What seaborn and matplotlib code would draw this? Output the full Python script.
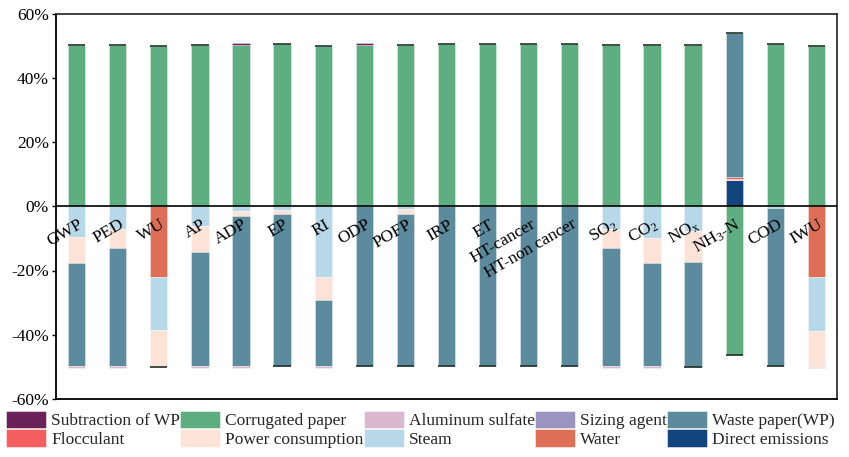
import matplotlib

matplotlib.use("Agg")
import matplotlib.pyplot as plt
import matplotlib.ticker as mticker
import numpy as np
import pandas as pd
import seaborn as sns
from matplotlib.patches import Patch

# ---------------------------------------------------------------------------
# data (percent contribution)
# ---------------------------------------------------------------------------
categories = ["GWP", "PED", "WU", "AP", "ADP", "EP", "RI", "ODP", "POFP", "IRP", "ET",
              "HT-cancer", "HT-non cancer", "SO$_2$", "CO$_2$", "NO$_\\mathrm{x}$",
              "NH$_3$-N", "COD", "IWU"]

direct_emissions = [0, 0, 0, 0, 0, 0, 0, 0, 0, 0, 0, 0, 0, 0, 0, 0, 8.3, 0, 0]
water = [0, 0, -22.1, 0, 0, 0, 0, 0, 0, 0, 0, 0, 0, 0, 0, 0, 0, 0, -22.1]
steam = [-9.6, -7.0, -16.4, -6.3, -1.5, -1.2, -21.9, 0, -1.0, 0, 0, 0, 0,
         -7.0, -9.8, -7.7, 0, -0.5, -16.7]
power_consumption = [-8.0, -5.9, -11.2, -7.8, -1.6, -1.3, -7.2, 0, -1.5, 0, 0, 0, 0,
                     -6.0, -7.9, -9.7, 0.3, 0, -11.1]
flocculant = [0, 0, 0, 0, 0, 0, 0, 0, 0, 0, 0, 0, 0, 0, 0, 0, 0.4, 0, 0]
waste_paper = [-32.2, -36.9, 0, -35.7, -46.7, -47.3, -20.7, -49.8, -47.3, -49.8, -49.8,
               -49.8, -49.8, -36.8, -32.1, -32.6, 45.0, -49.3, 0]
corrugated_paper = [50.3, 50.3, 49.9, 50.3, 50.3, 50.4, 49.9, 50.3, 50.3, 50.4, 50.4,
                    50.4, 50.4, 50.2, 50.2, 50.2, -46.3, 50.4, 49.9]
aluminum_sulfate = [-0.4, -0.4, -0.4, -0.4, -0.4, 0, -0.5, 0, 0, 0, 0, 0, 0,
                    -0.4, -0.4, 0, 0, 0, -0.5]
sizing_agent = [0] * 19
subtraction_wp = [0, 0, 0, 0, 0.5, 0, 0, 0.5, 0, 0, 0, 0, 0, 0, 0, 0, 0, 0, 0]

# dark end caps seen on the bar ends (1 = drawn)
cap_top = [1, 1, 1, 1, 0, 1, 1, 0, 1, 1, 1, 1, 1, 1, 1, 1, 1, 1, 1]
cap_bottom = [0, 0, 1, 0, 0, 1, 0, 1, 1, 1, 1, 1, 1, 0, 0, 1, 1, 1, 0]

# stacking order away from zero, name -> (values, color)
series = {
    "Direct emissions": (direct_emissions, "#13457d"),
    "Water": (water, "#df6e57"),
    "Steam": (steam, "#b6d8e8"),
    "Power consumption": (power_consumption, "#fce2d7"),
    "Flocculant": (flocculant, "#f55f5f"),
    "Waste paper(WP)": (waste_paper, "#5c8b9d"),
    "Corrugated paper": (corrugated_paper, "#5fae82"),
    "Aluminum sulfate": (aluminum_sulfate, "#dab9d0"),
    "Sizing agent": (sizing_agent, "#9b94c0"),
    "Subtraction of WP": (subtraction_wp, "#6b2259"),
}

# legend reads row-wise in the figure; matplotlib fills column-wise
legend_order = ["Subtraction of WP", "Flocculant", "Corrugated paper", "Power consumption",
                "Aluminum sulfate", "Steam", "Sizing agent", "Water",
                "Waste paper(WP)", "Direct emissions"]

# ---------------------------------------------------------------------------
sns.set_theme(style="ticks")
plt.rcParams.update({
    "font.family": ["Liberation Serif", "DejaVu Serif"],
    "font.size": 12.5,
    "mathtext.fontset": "custom",
    "mathtext.rm": "Liberation Serif",
    "mathtext.it": "Liberation Serif:italic",
    "axes.unicode_minus": False,
})

fig = plt.figure(figsize=(8.49, 4.57), dpi=100)
ax = fig.add_axes([56 / 849, 1 - 399 / 457, (837 - 56) / 849, (399 - 13.5) / 457])

width = 0.42
n = len(categories)
pos_base = np.zeros(n)
neg_base = np.zeros(n)
for name, (vals, color) in series.items():
    vals = np.asarray(vals, dtype=float)
    bottom = np.where(vals >= 0, pos_base, neg_base)
    df = pd.DataFrame({"cat": categories, "val": vals, "bottom": bottom})
    df = df[df["val"] != 0]
    if not df.empty:
        sns.barplot(data=df, x="cat", y="val", order=categories, color=color,
                    saturation=1, width=width, bottom=df["bottom"].to_numpy(),
                    edgecolor=(1, 1, 1, 0.35), linewidth=0.7, ax=ax)
    pos_base += np.clip(vals, 0, None)
    neg_base += np.clip(vals, None, 0)

xs = np.arange(n)
top_mask = np.asarray(cap_top, dtype=bool)
bot_mask = np.asarray(cap_bottom, dtype=bool)
ax.hlines(pos_base[top_mask], xs[top_mask] - width / 2, xs[top_mask] + width / 2,
          color="#23322b", lw=1.2, zorder=3)
ax.hlines(neg_base[bot_mask], xs[bot_mask] - width / 2, xs[bot_mask] + width / 2,
          color="#23322b", lw=1.2, zorder=3)

ax.axhline(0, color="black", lw=1.2, zorder=4)

# category labels sit inside the axes just under the zero line
for i, lab in enumerate(categories):
    ax.text(i + 0.23, -3.2, lab, rotation=30, ha="right", va="top", fontsize=12.5,
            color="black", zorder=5)

ax.set_xlim(-0.5, n - 0.5)
ax.set_ylim(-60, 60)
ax.set_xticks(xs)
ax.set_xticklabels([])
ax.tick_params(axis="x", length=0)
ax.set_yticks(np.arange(-60, 61, 20))
ax.yaxis.set_major_formatter(mticker.FuncFormatter(lambda v, _: f"{v:.0f}%"))
ax.tick_params(axis="y", direction="out", length=3, width=1, labelsize=12.5, pad=2,
               colors="black")
ax.set_xlabel("")
ax.set_ylabel("")
for side, sp in ax.spines.items():
    sp.set_visible(True)
    sp.set_linewidth(1.3)
    sp.set_color("black" if side in ("left", "bottom") else "#333333")

handles = [Patch(facecolor=series[k][1], edgecolor=(1, 1, 1, 0.5), lw=0.7)
           for k in legend_order]
fig.legend(handles, legend_order, ncol=5, loc="upper left",
           bbox_to_anchor=(6 / 849, 1 - 411 / 457), frameon=False,
           borderaxespad=0, borderpad=0, handlelength=2.3, handleheight=1.15,
           handletextpad=0.3, columnspacing=0.0, labelspacing=0.0, fontsize=12.5)

fig.savefig("out.png", dpi=100)
